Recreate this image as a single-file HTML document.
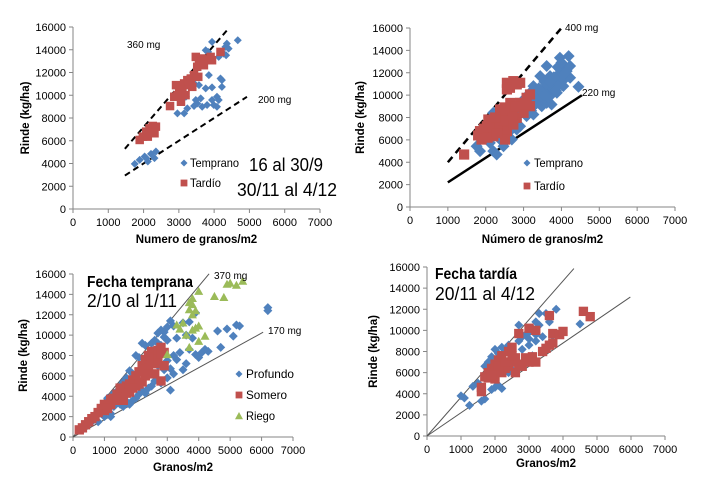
<!DOCTYPE html>
<html><head><meta charset="utf-8">
<style>
html,body{margin:0;padding:0;background:#fff;}
svg{display:block;font-family:"Liberation Sans",sans-serif;}
</style></head>
<body>
<svg id="c" width="709" height="490" viewBox="0 0 709 490"></svg>
<script>
// ---------- DATA ----------
const xTicks = [0,1000,2000,3000,4000,5000,6000,7000];
const yTicks = [0,2000,4000,6000,8000,10000,12000,14000,16000];

const a_temprano = [[1750,3970],[1890,4320],[2030,4610],[2120,4180],[2210,4850],[2350,5050],[2310,4470],[2075,4470],
[2960,8410],[3150,8410],[3240,8850],[3430,9050],[3520,9280],[3620,9720],[3660,8990],[3800,9140],[3480,9580],[3760,10600],[3940,10690],[3940,9580],[3990,9140],[4080,8990],[4080,9870],[4130,9580],[4220,11330],[4180,11470],[4220,10740],[3850,11770],[3760,13960],[3940,14690],[3830,13810],[4130,13370],[4270,13660],[4320,14250],[4360,14540],[4410,14100],[4340,13520],[4670,14830],[3430,11040],[3570,10890],[3200,9870]];
const a_tardio = [[1890,6070],[1980,6360],[2075,6800],[2170,7090],[2260,7300],[2350,7240],[2120,6360],[2310,6660],[2750,9050],[2870,9870],[3060,9430],[2920,10890],[3010,10310],[3150,11040],[3100,10450],[3240,11330],[3340,11470],[3430,11770],[3550,11620],[3190,10010],[3380,10740],[3290,10890],[3480,13370],[3570,12930],[3660,13230],[3760,13080],[3900,13370],[3520,12500],[3710,12640],[4180,13810],[3940,13080],[2960,10010]];

const b_temprano = [[1850,4990],[2200,4990],[2290,4690],[2470,5430],[2110,5730],[1850,6330],[2380,6330],[2640,6780],[2820,6930],[2560,7220],[2910,7220],[3080,8120],[3260,8270],[3350,9610],[3610,9310],[3700,9910],[3520,10510],[3790,10810],[3880,11400],[3700,11700],[3960,12300],[4050,12750],[4140,12150],[4190,13490],[3960,13340],[4230,11550],[4450,10750],[4230,12600],[3440,11700],[3170,10210],[3000,9610],[3260,9010],[2820,8720],[2730,7970],[3480,9010],[3740,9160],[3880,10210],[4050,10810],[3610,12600],[3260,10810],[2910,9010],[2560,8120],[2200,8420],[2030,6630],[2380,6030],[2690,6030],[1760,5430],[3400,10000],[3600,10500],[3800,11100],[3150,9300],[3500,9600],[3700,10300],[3900,11800],[4100,11500],[3300,9900],[3550,11200],[2900,8300],[2600,7600],
[3050,8700],[3150,8900],[3350,9300],[3450,9900],[3650,9800],[3750,10600],[3850,10400],[3950,11000],[4000,11600],[4100,12000],[3300,10400],[3400,10600],[3600,11000],[3800,11600],[3900,12500],[4000,12900],[3000,9000],[2800,7800],[2700,7300],[3200,8600],[3550,10000],[3700,11200]];
const b_tardio = [[1430,4690],[1850,6780],[2030,7220],[2200,7520],[2380,7970],[2560,8420],[2730,8870],[2910,9310],[3080,9760],[3170,10060],[1940,6480],[2160,6780],[2380,7070],[2600,7520],[2820,7970],[3000,8420],[3170,9010],[2560,6780],[2730,7370],[2200,6330],[1890,6030],[2560,11100],[2730,11250],[2910,11100],[2640,10660],[2560,10510],[2820,10960],[2510,6030],[2070,7820],[2380,8720],[1800,6400],[2300,7300],[2700,8200],[2100,7100],[2450,7700],[1950,7000],[2250,8000],[2500,8900],[2650,9300],[2800,9000],[3050,9200],[2050,6200],[2300,6600]];

const c_profundo = [[300,700],[500,1300],[700,1900],[900,2300],[1000,3000],[1200,2300],[1100,3800],[1300,3000],[1400,4500],[1500,3200],[1600,5400],[1700,3500],[1800,4900],[1900,6200],[2000,3800],[2100,7800],[2000,8000],[2200,4600],[2300,9000],[2400,6000],[2500,8500],[2600,9500],[2700,10200],[2800,10500],[2900,9800],[3000,10800],[3100,11400],[3200,10900],[3300,9700],[3000,7500],[3100,6700],[3200,6200],[3300,7600],[3400,8300],[3500,6600],[3600,7200],[3700,8600],[3800,9700],[3900,8100],[4000,7800],[4100,8300],[4200,8600],[4300,8400],[4600,10400],[4700,8800],[4900,10600],[5100,9900],[5200,11000],[5300,10900],[6200,12700],[6200,12400],[3100,4600],[2800,5300],[2900,6600],[3000,5800],[3700,11300],[3900,12200],[3500,11200],[2500,5000],[2700,7000],[3200,8000],[3600,10000],[1000,2000],[1200,2000],[800,1500],[1800,6500],[1600,3000],[2200,9200],
[400,1000],[600,1500],[1300,4300],[1500,5000],[1700,5800],[1800,3200],[1900,3600],[2100,4200],[2300,4300],[2400,4800],[2600,5500],[2700,9200],[2900,10300],[3000,9500],[2800,9000],[2500,9200]];
const c_somero = [[200,700],[400,1200],[600,1800],[800,2400],[900,2800],[1000,2600],[1200,3200],[1300,3800],[1400,4200],[1500,3700],[1600,4600],[1700,5000],[1800,4400],[1900,5600],[2000,5000],[2000,6000],[2100,6400],[2200,5400],[2200,7000],[2300,6000],[2300,7600],[2400,6800],[2400,8000],[2500,7200],[2500,8400],[2600,7800],[2700,8500],[2800,8800],[2900,8300],[2900,7000],[2800,5500],[2600,6200],[1600,3600],[1100,3200],[1500,4800],[2100,5200],
[300,900],[500,1500],[700,2000],[1000,3200],[1100,2800],[1200,3700],[1400,3600],[1700,4300],[1800,5200],[1900,4800],[2200,6400],[2400,6200],[2600,7200],[2700,7600],[2800,8200]];
const c_riego = [[3000,8100],[3300,11000],[3400,10600],[3500,11200],[3600,10000],[3700,8800],[3700,12500],[3800,13000],[3900,12400],[3800,13600],[3700,13200],[4000,14300],[3900,10700],[4000,10900],[3800,10500],[4000,9400],[4200,9900],[4500,13800],[4800,13700],[4900,15000],[5000,15100],[5200,14900],[5400,15300],[3800,12000]];

const d_blue = [[1100,3600],[1000,3800],[1250,2900],[1350,4700],[1600,3300],[1700,3500],[1500,5000],[1700,6600],[1800,7000],[1900,7500],[2000,8200],[1900,4400],[2000,4600],[2100,4800],[2200,4500],[2200,8400],[2400,8600],[2700,10500],[2700,9000],[2900,9600],[3000,9800],[3100,10200],[3200,9000],[3300,11600],[3300,10500],[3400,9400],[3500,11600],[3600,10800],[3800,12000],[3700,9000],[2600,7500],[2800,8200],[3000,8600],[3100,7600],[2500,6300],[2300,6700],[4500,10600],[3200,10800],[2000,5500],[2400,6000],[2100,7800],[2300,8000],[2800,9400],[3000,9200],[3200,9600]];
const d_red = [[1600,4200],[1600,4600],[1700,5600],[1800,6000],[1900,6400],[2000,6800],[2000,5400],[2100,7200],[2200,6000],[2200,7600],[2300,6400],[2400,8000],[2400,6600],[2500,7000],[2500,8400],[2600,7400],[2600,6000],[2700,9700],[2800,6600],[3000,10200],[3000,7000],[3100,7500],[3200,7000],[3200,10000],[3400,8000],[3500,8300],[3600,8600],[3700,8800],[3700,9700],[3600,11400],[3900,9600],[4000,9900],[4600,11800],[4800,11300],[2100,6200],[1800,5500],[1900,5800],[2100,6600],[2300,7000],[2500,7600],[2700,6800],[2900,7400]];

// reference lines: [x0, x1, slope (kg/ha per grain)]
const a_lines = [[1470,4400,3.6],[1470,4930,2.0]];
const b_lines = [[1000,4000,4.0],[1000,4540,2.2]];
const c_lines = [[0,4330,3.7],[0,6050,1.7]];
const d_lines = [[0,4320,3.67],[0,5980,2.2]];

// ---------- RENDER ----------
const NS="http://www.w3.org/2000/svg";
const svg=document.getElementById('c');
function el(t,a,p){const e=document.createElementNS(NS,t);for(const k in a)e.setAttribute(k,a[k]);(p||svg).appendChild(e);return e;}
function txt(s,a,p){const e=el('text',a,p);e.textContent=s;return e;}

const BLUE="#4F81BD",RED="#C0504D",GREEN="#9BBB59";
function marker(g,kind,x,y,s){
  let m;
  if(kind==='d'){m=el('path',{d:`M${x},${y-s}L${x+s},${y}L${x},${y+s}L${x-s},${y}Z`,fill:BLUE},g);}
  else if(kind==='s'){m=el('rect',{x:x-s*0.85,y:y-s*0.85,width:s*1.7,height:s*1.7,fill:RED},g);}
  else {m=el('path',{d:`M${x},${y-s}L${x+s},${y+s*0.8}L${x-s},${y+s*0.8}Z`,fill:GREEN},g);}
  return m;
}

function panel(cfg){
  const g=el('g',{});
  
  
  const sx=v=>cfg.x0+(cfg.x7-cfg.x0)*v/7000;
  const sy=v=>cfg.y0-(cfg.y0-cfg.y16)*v/16000;
  const ax=el('line',{x1:cfg.x0,y1:cfg.y16,x2:cfg.x0,y2:cfg.y0,stroke:'#868686','stroke-width':1},g);
  
  const bx=el('line',{x1:cfg.x0,y1:cfg.y0,x2:cfg.x7,y2:cfg.y0,stroke:'#868686','stroke-width':1},g);
  
  yTicks.forEach(v=>{
    el('line',{x1:cfg.x0-4,y1:sy(v),x2:cfg.x0,y2:sy(v),stroke:'#868686'},g);
    const t=txt(String(v),{x:cfg.x0-7,y:sy(v)+4,'text-anchor':'end','font-size':11,fill:'#000'},g);
    
  });
  xTicks.forEach(v=>{
    el('line',{x1:sx(v),y1:cfg.y0,x2:sx(v),y2:cfg.y0+4,stroke:'#868686'},g);
    const t=txt(String(v),{x:sx(v),y:cfg.y0+17,'text-anchor':'middle','font-size':11,fill:'#000'},g);
    
  });
  cfg.lines.forEach((l,i)=>{
    const ln=el('line',{x1:sx(l[0]),y1:sy(l[0]*l[2]),x2:sx(l[1]),y2:sy(l[1]*l[2]),stroke:cfg.lineStyles[i].c,'stroke-width':cfg.lineStyles[i].w,'stroke-dasharray':cfg.lineStyles[i].d||'none'},g);
    
  });
  cfg.series.forEach(s=>{
    const sg=el('g',{},g);
    
    
    s.data.forEach(p=>{
      const m=marker(sg,s.kind,sx(p[0]),sy(p[1]),s.size);
      
      
    });
  });
  const yl=txt('Rinde (kg/ha)',{x:0,y:0,transform:`translate(${cfg.ylx},${(cfg.y0+cfg.y16)/2}) rotate(-90)`,'text-anchor':'middle','font-size':11.5,'font-weight':'bold'},g);
  
  const xl=txt(cfg.xtitle,{x:(cfg.x0+cfg.x7)/2,y:cfg.xty,'text-anchor':'middle','font-size':11.5,'font-weight':'bold'},g);
  
  return {g,sx,sy};
}

panel({name:'panel-top-left',x0:73,x7:320,y0:209,y16:27,ylx:29,xtitle:'Numero de granos/m2',xty:243,
  lines:a_lines,lineStyles:[{c:'#000',w:2,d:'6,4'},{c:'#000',w:2,d:'6,4'}],
  series:[{name:'series-temprano',kind:'d',data:a_temprano,size:4},{name:'series-tardio',kind:'s',data:a_tardio,size:5}]});
panel({name:'panel-top-right',x0:410,x7:675,y0:207,y16:28,ylx:364,xtitle:'Número de granos/m2',xty:243,
  lines:b_lines,lineStyles:[{c:'#000',w:2.5,d:'7,5'},{c:'#000',w:2.5}],
  series:[{name:'series-temprano',kind:'d',data:b_temprano,size:6},{name:'series-tardio',kind:'s',data:b_tardio,size:6}]});
panel({name:'panel-bottom-left',x0:73,x7:293,y0:437,y16:274,ylx:27,xtitle:'Granos/m2',xty:471,
  lines:c_lines,lineStyles:[{c:'#555',w:1},{c:'#555',w:1}],
  series:[{name:'series-profundo',kind:'d',data:c_profundo,size:4.5},{name:'series-somero',kind:'s',data:c_somero,size:5.5},{name:'series-riego',kind:'t',data:c_riego,size:4.5}]});
panel({name:'panel-bottom-right',x0:427,x7:665,y0:436,y16:267,ylx:377,xtitle:'Granos/m2',xty:467,
  lines:d_lines,lineStyles:[{c:'#555',w:1},{c:'#555',w:1}],
  series:[{name:'series-temprano',kind:'d',data:d_blue,size:4.5},{name:'series-tardio',kind:'s',data:d_red,size:5.5}]});

function label(s,x,y,fs,fw,anchor,name,len){
  const a={x:x,y:y,'font-size':fs,'font-weight':fw||'normal','text-anchor':anchor||'start'};
  if(len){a.textLength=len;a.lengthAdjust='spacingAndGlyphs';}
  const t=txt(s,a);
  
  
  return t;
}
function legendMarker(kind,x,y,s,name){
  const m=marker(svg,kind,x,y,s);
  
  
}
// panel A
label('360 mg',127,48,10,'normal','start','line-label-360');
label('200 mg',258,103,10,'normal','start','line-label-200');
legendMarker('d',184,163,3.5,'legend-marker-temprano');
label('Temprano',190,167,12,'normal','start','legend-entry-temprano',49);
legendMarker('s',184,183,4,'legend-marker-tardio');
label('Tardío',190,187,12,'normal','start','legend-entry-tardio',31);
label('16 al 30/9',249,171,18,'normal','start','date-range-early',74);
label('30/11 al 4/12',237,196,18,'normal','start','date-range-late',100);
// panel B
label('400 mg',565,31,10,'normal','start','line-label-400');
label('220 mg',582,96,10,'normal','start','line-label-220');
legendMarker('d',527,163,3.5,'legend-marker-temprano');
label('Temprano',534,167,12,'normal','start','legend-entry-temprano',49);
legendMarker('s',527,186,4,'legend-marker-tardio');
label('Tardío',534,190,12,'normal','start','legend-entry-tardio',31);
// panel C
label('Fecha temprana',87,287,16,'bold','start','panel-title-early',106);
label('2/10 al 1/11',87,307,18,'normal','start','date-range-early',90);
label('370 mg',214,279,10,'normal','start','line-label-370');
label('170 mg',268,334,10,'normal','start','line-label-170');
legendMarker('d',239,374,3.5,'legend-marker-profundo');
label('Profundo',246,378,12,'normal','start','legend-entry-profundo',48);
legendMarker('s',239,395,4,'legend-marker-somero');
label('Somero',246,399,12,'normal','start','legend-entry-somero',41);
legendMarker('t',239,416,4,'legend-marker-riego');
label('Riego',246,420,12,'normal','start','legend-entry-riego',29);
// panel D
label('Fecha tardía',435,279,16,'bold','start','panel-title-late',82);
label('20/11 al 4/12',435,300,18,'normal','start','date-range-late',100);
</script>
</body></html>
